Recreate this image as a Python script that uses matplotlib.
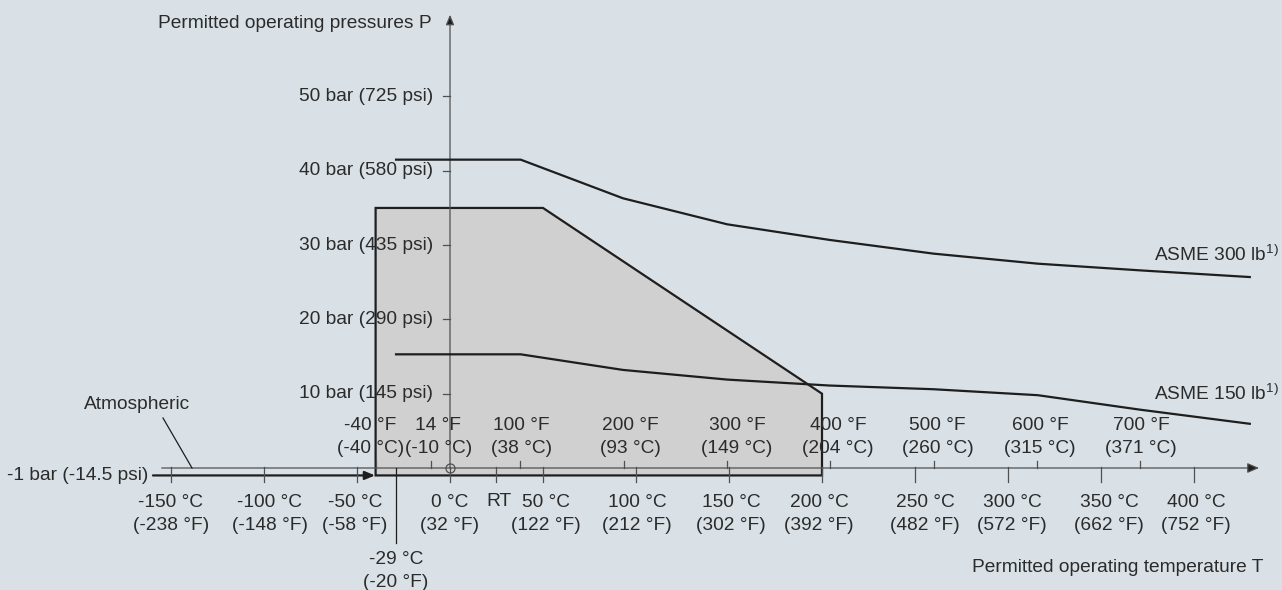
import matplotlib
matplotlib.use('Agg')
import matplotlib.pyplot as plt
from matplotlib.patches import Polygon

plt.rcParams['font.family'] = ['Liberation Sans', 'DejaVu Sans']
plt.rcParams['mathtext.fontset'] = 'custom'
plt.rcParams['mathtext.rm'] = 'Liberation Sans'

# ---------------- data ----------------
box_T = [-40, -40, 50, 200, 200]
box_P = [-1, 35, 35, 10, -1]

asme_T = [-29, 38, 93, 149, 204, 260, 316, 371, 430]
asme300_P = [41.5, 41.5, 36.3, 32.8, 30.7, 28.85, 27.5, 26.6, 25.7]
asme150_P = [15.3, 15.3, 13.2, 11.9, 11.1, 10.6, 9.8, 7.85, 5.95]

c_ticks = [-150, -100, -50, 0, 50, 100, 150, 200, 250, 300, 350, 400]
c_labels = ['-150 °C\n(-238 °F)', '-100 °C\n(-148 °F)', '-50 °C\n(-58 °F)',
            '0 °C\n(32 °F)', '50 °C\n(122 °F)', '100 °C\n(212 °F)',
            '150 °C\n(302 °F)', '200 °C\n(392 °F)', '250 °C\n(482 °F)',
            '300 °C\n(572 °F)', '350 °C\n(662 °F)', '400 °C\n(752 °F)']
rt_T = 25
rt_label = 'RT'

f_ticks = [-40, 14, 100, 200, 300, 400, 500, 600, 700]
f_labels = ['-40 °F\n(-40 °C)', '14 °F\n(-10 °C)', '100 °F\n(38 °C)',
            '200 °F\n(93 °C)', '300 °F\n(149 °C)', '400 °F\n(204 °C)',
            '500 °F\n(260 °C)', '600 °F\n(315 °C)', '700 °F\n(371 °C)']

p_ticks = [10, 20, 30, 40, 50]
p_labels = ['10 bar (145 psi)', '20 bar (290 psi)', '30 bar (435 psi)',
            '40 bar (580 psi)', '50 bar (725 psi)']

min_T = -29
min_T_label = '-29 °C\n(-20 °F)'
vac_label = '-1 bar (-14.5 psi)'
atm_label = 'Atmospheric'
y_title = 'Permitted operating pressures P'
x_title = 'Permitted operating temperature T'
label300 = r'ASME 300 lb$^{\mathrm{1)}}$'
label150 = r'ASME 150 lb$^{\mathrm{1)}}$'

# ---------------- style ----------------
BG = '#d9e1e6'
FILL = '#d0d0d0'
DARK = '#1e1e1e'
GREY = '#505050'
TXT = '#2b2b2b'
FS = 13.8
LS = 1.48

# label pixel offsets (x) to mimic reference placement
f_dx = [-5, 7, 1, 7, 10, 8, 4, 3, 1]
c_dx = [0, 6, -2, 0, 3, 1, 2, -3, 10, 4, 8, 2]

fig = plt.figure(figsize=(12.82, 5.90), dpi=100, facecolor=BG)
ax = fig.add_axes([0, 0, 1, 1])
ax.set_facecolor(BG)
# pixel mapping: x = 450 + 1.86*T ; y(from top) = 468 - 7.43*P
ax.set_xlim(-450 / 1.86, (1282 - 450) / 1.86)
ax.set_ylim((468 - 590) / 7.43, 468 / 7.43)
ax.set_axis_off()

# shaded operating area
poly = Polygon(list(zip(box_T, box_P)), closed=True, facecolor=FILL,
               edgecolor=DARK, linewidth=1.6, zorder=2, joinstyle='miter')
ax.add_patch(poly)

# atmospheric (0 bar) axis line with arrow
ax.annotate('', xy=(435, 0), xytext=(-155, 0),
            arrowprops=dict(arrowstyle='-|>,head_length=0.7,head_width=0.3',
                            color=GREY, lw=0.9, shrinkA=0, shrinkB=0,
                            fc=DARK, ec=GREY), zorder=3)
# -1 bar line with arrow to box
ax.annotate('', xy=(-40.3, -1), xytext=(-159.7, -1),
            arrowprops=dict(arrowstyle='-|>,head_length=0.6,head_width=0.25',
                            color=DARK, lw=1.6, shrinkA=0, shrinkB=0),
            zorder=3)
# y axis with arrow
ax.annotate('', xy=(0, 61.0), xytext=(0, 0),
            arrowprops=dict(arrowstyle='-|>,head_length=0.6,head_width=0.25',
                            color=GREY, lw=0.9, shrinkA=0, shrinkB=0,
                            fc=DARK, ec=GREY), zorder=3)

# ASME curves
ax.plot(asme_T, asme300_P, color=DARK, lw=1.6, zorder=4, solid_joinstyle='miter')
ax.plot(asme_T, asme150_P, color=DARK, lw=1.6, zorder=4, solid_joinstyle='miter')

# origin circle
ax.plot([0], [0], marker='o', ms=6.5, mfc='none', mec=GREY, mew=0.9, zorder=5)

# °C ticks (downward) and labels
for t, lab, dx in zip(c_ticks, c_labels, c_dx):
    ax.plot([t, t], [0.1, -1.9], color=GREY, lw=0.9, zorder=3)
    ax.annotate(lab, xy=(t, 0), xytext=(dx, -46), textcoords='offset pixels',
                ha='center', va='center', fontsize=FS, color=TXT,
                linespacing=LS)
ax.plot([rt_T, rt_T], [0.1, -1.9], color=GREY, lw=0.9, zorder=3)
ax.annotate(rt_label, xy=(rt_T, 0), xytext=(3, -34), textcoords='offset pixels',
            ha='center', va='center', fontsize=FS, color=TXT)

# °F ticks (upward) and labels
for f, lab, dx in zip(f_ticks, f_labels, f_dx):
    t = (f - 32) * 5.0 / 9.0
    ax.plot([t, t], [0, 0.9], color=GREY, lw=0.9, zorder=3)
    ax.annotate(lab, xy=(t, 0), xytext=(dx, 31), textcoords='offset pixels',
                ha='center', va='center', fontsize=FS, color=TXT,
                linespacing=LS, zorder=6)

# pressure ticks and labels
for p, lab in zip(p_ticks, p_labels):
    ax.plot([-3.8, 0], [p, p], color=GREY, lw=0.9, zorder=3)
    ax.annotate(lab, xy=(0, p), xytext=(-17, 0), textcoords='offset pixels',
                ha='right', va='center', fontsize=FS, color=TXT, zorder=6)

# -29 °C marker line
ax.plot([min_T, min_T], [0, -10.1], color=DARK, lw=0.9, zorder=3)
ax.annotate(min_T_label, xy=(min_T, 0), xytext=(0, -103), textcoords='offset pixels',
            ha='center', va='center', fontsize=FS, color=TXT, linespacing=LS)

# -1 bar label
ax.annotate(vac_label, xy=(-159.7, -1), xytext=(-5, 0), textcoords='offset pixels',
            ha='right', va='center', fontsize=FS, color=TXT)

# atmospheric label + leader
ax.plot([-154.3, -138.7], [6.73, 0], color=DARK, lw=0.9, zorder=3)
ax.text(-168.5, 8.6, atm_label, ha='center', va='center', fontsize=FS, color=TXT)

# axis titles
ax.text(-9.8, 59.8, y_title, ha='right', va='center', fontsize=FS, color=TXT)
ax.text(437.1, -13.4, x_title, ha='right', va='center', fontsize=FS, color=TXT)

# curve labels
ax.text(445.7, 28.67, label300, ha='right', va='center', fontsize=FS, color=TXT)
ax.text(445.7, 10.05, label150, ha='right', va='center', fontsize=FS, color=TXT)

fig.savefig('out.png', dpi=100, facecolor=BG)
